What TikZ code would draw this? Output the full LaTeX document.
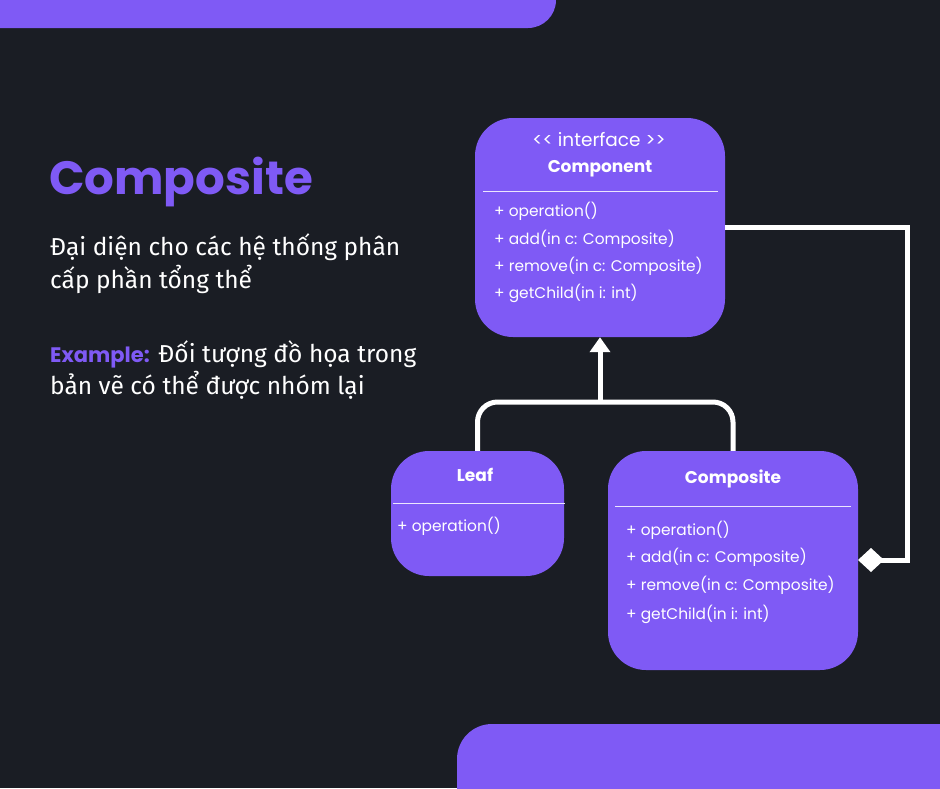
\documentclass[tikz,border=0pt]{standalone}
\usepackage{fontspec}
\setmainfont{Fira Sans}
\newfontfamily\popp{Poppins}
\usetikzlibrary{arrows.meta}
\definecolor{bgc}{HTML}{1A1D24}
\definecolor{pur}{HTML}{7F5AF5}
\tikzset{
  umlbox/.style={fill=pur, rounded corners=38pt, inner sep=0pt},
  sepline/.style={draw=white!85!pur, line width=1pt},
  mtext/.style={anchor=base west, inner sep=0pt, text=white, font=\popp\fontsize{15.4}{17}\selectfont},
  htext/.style={anchor=base, inner sep=0pt, text=white, font=\popp\bfseries\fontsize{17}{19}\selectfont},
  conn/.style={draw=white, line width=5pt},
  btext/.style={anchor=base west, inner sep=0pt, text=white, font=\fontsize{24.5}{29}\selectfont},
}
\begin{document}
\begin{tikzpicture}[x=1pt,y=-1pt]
\useasboundingbox (0,0) rectangle (940,788);
\fill[bgc] (0,0) rectangle (940,788);
\begin{scope}
\clip (0,0) rectangle (940,788);
\fill[pur, rounded corners=28pt] (-60,-60) rectangle (556,28);
\fill[pur, rounded corners=35pt] (457,724) rectangle (1000,850);
\end{scope}

% left text
\node[anchor=base west, inner sep=0pt, text=pur, font=\popp\bfseries\fontsize{46.7}{52}\selectfont] (title) at (49,194) {Composite};
\node[btext] (d1) at (50,255) {Đại diện cho các hệ thống phân};
\node[btext] (d2) at (50,288) {cấp phần tổng thể};
\node[btext] (e1) at (50,362) {{\popp\bfseries\color{pur}\fontsize{21}{26}\selectfont Example:} Đối tượng đồ họa trong};
\node[btext] (e2) at (50,394) {bản vẽ có thể được nhóm lại};

% boxes
\node[umlbox, minimum width=250pt, minimum height=219pt] (comp) at (600,227.5) {};
\node[umlbox, minimum width=173pt, minimum height=125pt] (leaf) at (477.5,513.5) {};
\node[umlbox, minimum width=250pt, minimum height=219pt] (compo) at (733,560.5) {};

% Component
\node[anchor=base, inner sep=0pt, text=white, font=\popp\fontsize{18.5}{20}\selectfont] (ci) at (599,146) {<< interface >>};
\node[htext] (cn) at (600,172) {Component};
\draw[sepline] (483,191) -- (718,191);
\node[mtext] (c1) at (494,216) {+ operation()};
\node[mtext] (c2) at (494,244) {+ add(in c: Composite)};
\node[mtext] (c3) at (494,271) {+ remove(in c: Composite)};
\node[mtext] (c4) at (494,298) {+ getChild(in i: int)};

% Leaf
\node[htext] (ln) at (475,481) {Leaf};
\draw[sepline] (393,503) -- (565,503);
\node[mtext] (l1) at (397,531) {+ operation()};

% Composite
\node[htext] (pn) at (733,483) {Composite};
\draw[sepline] (615,506) -- (851,506);
\node[mtext] (p1) at (626,535) {+ operation()};
\node[mtext] (p2) at (626,562) {+ add(in c: Composite)};
\node[mtext] (p3) at (626,590) {+ remove(in c: Composite)};
\node[mtext] (p4) at (626,619) {+ getChild(in i: int)};

% connectors
\coordinate (j) at (600,402);
\draw[conn, rounded corners=20pt] (leaf.north) |- (j) -| (compo.north);
\draw[conn, -{Triangle[width=20pt,length=15pt]}] (j) -- (comp.south);
\coordinate (dm) at (858,560);
\coordinate (rt) at (907,0);
\draw[conn, line join=miter, {Diamond[width=24pt,length=26pt]}-] (dm) -| (rt |- comp.east) -- (comp.east);
\end{tikzpicture}
\end{document}
